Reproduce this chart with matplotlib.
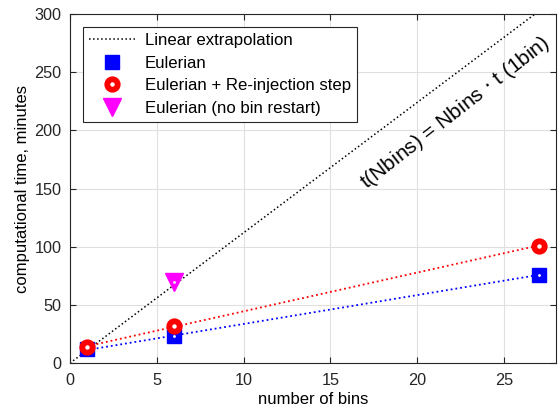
import matplotlib.pyplot as plt
import numpy as np

plt.rcParams["font.family"] = ["Liberation Sans", "DejaVu Sans"]

bins = [1, 6, 27]
t_euler = [12, 23, 76]
t_reinj = [14, 32, 101]
bins_norestart = [6]
t_norestart = [70]
t_one_bin = 11.2          # minutes for a single bin
x_extrap = [0, 28]

fig = plt.figure(figsize=(5.59, 4.09), dpi=100)
ax = fig.add_axes([0.125, 0.112, 0.870, 0.854])

# linear extrapolation from one bin
ax.plot(x_extrap, [t_one_bin * x for x in x_extrap], ":", color="k", lw=1.1,
        label="Linear extrapolation")

# fitted trends through the measured runs
xf = np.array([bins[0], bins[-1]])
pb = np.polyfit(bins, t_euler, 1)
pr = np.polyfit(bins, t_reinj, 1)
ax.plot(xf, np.polyval(pb, xf), ":", color="b", lw=1.3)
ax.plot(xf, np.polyval(pr, xf), ":", color="r", lw=1.3)

ax.plot(bins, t_euler, "s", ms=9.5, mfc="b", mec="b", ls="none", label="Eulerian")
ax.plot(bins, t_euler, ".", ms=2, color="w")
ax.plot(bins, t_reinj, "o", ms=7.5, mfc="w", mec="r", mew=4.2, ls="none",
        label="Eulerian + Re-injection step")
ax.plot(bins_norestart, t_norestart, "v", ms=12.5, mfc="magenta", mec="magenta",
        ls="none", label="Eulerian (no bin restart)")
ax.plot(bins_norestart, t_norestart, ".", ms=2, color="w")

ax.text(22.2, 215, "t(Nbins) = Nbins $\\cdot$ t (1bin)", rotation=38,
        ha="center", va="center", fontsize=15, rotation_mode="anchor")

ax.set_xlim(0, 28)
ax.set_ylim(0, 300)
ax.set_xticks(range(0, 30, 5))
ax.set_yticks(range(0, 301, 50))
ax.grid(True, color="#e0e0e0", lw=0.8)
ax.set_axisbelow(True)
ax.tick_params(direction="in", labelsize=11.7, colors="#262626", length=4,
               top=True, right=True)
ax.tick_params(axis="x", pad=7)
ax.tick_params(axis="y", pad=6)
for s in ax.spines.values():
    s.set_color("#262626")
    s.set_linewidth(0.8)
ax.set_xlabel("number of bins", fontsize=12, labelpad=3)
ax.set_ylabel("computational time, minutes", fontsize=12, labelpad=3)

leg = ax.legend(loc="upper left", fontsize=12.1, fancybox=False, framealpha=1,
                edgecolor="#262626", borderaxespad=0.8, handlelength=2.7,
                labelspacing=0.45, borderpad=0.35, handletextpad=0.6)
leg.get_frame().set_linewidth(0.8)

fig.savefig("out.png", dpi=100)
